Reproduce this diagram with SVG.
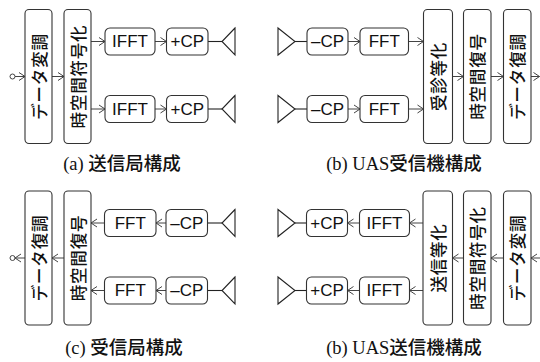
<svg xmlns="http://www.w3.org/2000/svg" width="540" height="362" viewBox="0 0 540 362">
<defs>
<style>
.box{fill:#fff;stroke:#333;stroke-width:1.1}
.ln{fill:none;stroke:#444;stroke-width:1}
.ant{fill:none;stroke:#222;stroke-width:1.1}
.vt{font-family:'Noto Sans CJK JP','Noto Sans CJK SC',sans-serif;font-size:16.5px;font-weight:500;letter-spacing:0.8px;fill:#111;text-anchor:middle;dominant-baseline:central}
.ht{font-family:'Liberation Sans',Arial,sans-serif;font-size:17px;fill:#111;text-anchor:middle;dominant-baseline:central}
.cap{font-family:'Liberation Serif','Noto Sans CJK JP',serif;font-size:18.5px;font-weight:500;fill:#111;text-anchor:middle}
</style>
<marker id="ah" markerUnits="userSpaceOnUse" markerWidth="10" markerHeight="10" refX="6" refY="4" orient="auto" overflow="visible">
<path d="M0,0 L6,4 L0,8" fill="none" stroke="#444" stroke-width="1"/>
</marker>
</defs>
<rect width="540" height="362" fill="#fff"/>

<g id="connectors">
<circle class="ln" cx="12.5" cy="76.5" r="2.5"/>
<line class="ln" x1="15" y1="76.5" x2="25" y2="76.5" marker-end="url(#ah)"/>
<line class="ln" x1="52" y1="76.5" x2="64" y2="76.5" marker-end="url(#ah)"/>
<line class="ln" x1="91" y1="41.5" x2="105" y2="41.5" marker-end="url(#ah)"/>
<line class="ln" x1="91" y1="109" x2="105" y2="109" marker-end="url(#ah)"/>
<line class="ln" x1="155" y1="41.5" x2="166.5" y2="41.5" marker-end="url(#ah)"/>
<line class="ln" x1="155" y1="109" x2="166.5" y2="109" marker-end="url(#ah)"/>
<line class="ant" x1="208" y1="41.5" x2="222" y2="41.5"/>
<line class="ant" x1="208" y1="109" x2="222" y2="109"/>
<line class="ant" x1="295" y1="41.5" x2="307" y2="41.5"/>
<line class="ant" x1="295" y1="109" x2="307" y2="109"/>
<line class="ln" x1="348" y1="41.5" x2="360" y2="41.5" marker-end="url(#ah)"/>
<line class="ln" x1="348" y1="109" x2="360" y2="109" marker-end="url(#ah)"/>
<line class="ln" x1="408.5" y1="41.5" x2="423.5" y2="41.5" marker-end="url(#ah)"/>
<line class="ln" x1="408.5" y1="109" x2="423.5" y2="109" marker-end="url(#ah)"/>
<line class="ln" x1="452.5" y1="76.5" x2="463.5" y2="76.5" marker-end="url(#ah)"/>
<line class="ln" x1="491" y1="76.5" x2="503.5" y2="76.5" marker-end="url(#ah)"/>
<line class="ln" x1="531" y1="76.5" x2="539.5" y2="76.5" marker-end="url(#ah)"/>
<circle class="ln" cx="12.5" cy="258" r="2.5"/>
<line class="ln" x1="25" y1="258" x2="15" y2="258" marker-end="url(#ah)"/>
<line class="ln" x1="64" y1="258" x2="52" y2="258" marker-end="url(#ah)"/>
<line class="ln" x1="104.5" y1="223" x2="91" y2="223" marker-end="url(#ah)"/>
<line class="ln" x1="104.5" y1="290.5" x2="91" y2="290.5" marker-end="url(#ah)"/>
<line class="ln" x1="166" y1="223" x2="156" y2="223" marker-end="url(#ah)"/>
<line class="ln" x1="166" y1="290.5" x2="156" y2="290.5" marker-end="url(#ah)"/>
<line class="ant" x1="207.5" y1="223" x2="222" y2="223"/>
<line class="ant" x1="207.5" y1="290.5" x2="222" y2="290.5"/>
<line class="ant" x1="295" y1="223" x2="306.5" y2="223"/>
<line class="ant" x1="295" y1="290.5" x2="306.5" y2="290.5"/>
<line class="ln" x1="359.5" y1="223" x2="347.5" y2="223" marker-end="url(#ah)"/>
<line class="ln" x1="359.5" y1="290.5" x2="347.5" y2="290.5" marker-end="url(#ah)"/>
<line class="ln" x1="423" y1="223" x2="409.5" y2="223" marker-end="url(#ah)"/>
<line class="ln" x1="423" y1="290.5" x2="409.5" y2="290.5" marker-end="url(#ah)"/>
<line class="ln" x1="463.5" y1="258" x2="452.5" y2="258" marker-end="url(#ah)"/>
<line class="ln" x1="503.5" y1="258" x2="491" y2="258" marker-end="url(#ah)"/>
<line class="ln" x1="541" y1="258" x2="531" y2="258" marker-end="url(#ah)"/>
</g>

<g id="a-mod"><rect class="box" x="25" y="9.5" width="27" height="134" rx="4"/><text class="vt" transform="translate(38.5,76.5) rotate(-90)">データ変調</text></g>
<g id="a-stc"><rect class="box" x="64" y="9.5" width="27" height="134" rx="4"/><text class="vt" transform="translate(77.5,76.5) rotate(-90)">時空間符号化</text></g>
<g id="a-ifft1"><rect class="box" x="105" y="28" width="50" height="27" rx="5"/><text class="ht" x="130" y="41.5">IFFT</text></g>
<g id="a-cp1"><rect class="box" x="166.5" y="28" width="41.5" height="27" rx="5"/><text class="ht" x="187.25" y="41.5">+CP</text></g>
<g id="a-ant1"><path class="ant" d="M235,28 L222,41.5 L235,55 Z"/></g>
<g id="a-ifft2"><rect class="box" x="105" y="95.5" width="50" height="27" rx="5"/><text class="ht" x="130" y="109">IFFT</text></g>
<g id="a-cp2"><rect class="box" x="166.5" y="95.5" width="41.5" height="27" rx="5"/><text class="ht" x="187.25" y="109">+CP</text></g>
<g id="a-ant2"><path class="ant" d="M235,95.5 L222,109 L235,122.5 Z"/></g>
<g id="a-cap"><text class="cap" x="122" y="170">(a) 送信局構成</text></g>

<g id="b-ant1"><path class="ant" d="M278,28 L295,41.5 L278,55 Z"/></g>
<g id="b-cp1"><rect class="box" x="307" y="28" width="41" height="27" rx="5"/><text class="ht" x="327.5" y="41.5">–CP</text></g>
<g id="b-fft1"><rect class="box" x="360" y="28" width="48.5" height="27" rx="5"/><text class="ht" x="384.25" y="41.5">FFT</text></g>
<g id="b-ant2"><path class="ant" d="M278,95.5 L295,109 L278,122.5 Z"/></g>
<g id="b-cp2"><rect class="box" x="307" y="95.5" width="41" height="27" rx="5"/><text class="ht" x="327.5" y="109">–CP</text></g>
<g id="b-fft2"><rect class="box" x="360" y="95.5" width="48.5" height="27" rx="5"/><text class="ht" x="384.25" y="109">FFT</text></g>
<g id="b-eq"><rect class="box" x="423.5" y="9.5" width="29" height="134" rx="4"/><text class="vt" transform="translate(438,76.5) rotate(-90)">受診等化</text></g>
<g id="b-std"><rect class="box" x="463.5" y="9.5" width="27.5" height="134" rx="4"/><text class="vt" transform="translate(477.25,76.5) rotate(-90)">時空間復号</text></g>
<g id="b-dem"><rect class="box" x="503.5" y="9.5" width="27.5" height="134" rx="4"/><text class="vt" transform="translate(517.25,76.5) rotate(-90)">データ復調</text></g>
<g id="b-cap"><text class="cap" x="404" y="170">(b) UAS受信機構成</text></g>

<g id="c-dem"><rect class="box" x="25" y="191" width="27" height="134" rx="4"/><text class="vt" transform="translate(38.5,258) rotate(-90)">データ復調</text></g>
<g id="c-std"><rect class="box" x="64" y="191" width="27" height="134" rx="4"/><text class="vt" transform="translate(77.5,258) rotate(-90)">時空間復号</text></g>
<g id="c-fft1"><rect class="box" x="104.5" y="209.5" width="51.5" height="27" rx="5"/><text class="ht" x="130.25" y="223">FFT</text></g>
<g id="c-cp1"><rect class="box" x="166" y="209.5" width="41.5" height="27" rx="5"/><text class="ht" x="186.75" y="223">–CP</text></g>
<g id="c-ant1"><path class="ant" d="M235,209.5 L222,223 L235,236.5 Z"/></g>
<g id="c-fft2"><rect class="box" x="104.5" y="277" width="51.5" height="27" rx="5"/><text class="ht" x="130.25" y="290.5">FFT</text></g>
<g id="c-cp2"><rect class="box" x="166" y="277" width="41.5" height="27" rx="5"/><text class="ht" x="186.75" y="290.5">–CP</text></g>
<g id="c-ant2"><path class="ant" d="M235,277 L222,290.5 L235,304 Z"/></g>
<g id="c-cap"><text class="cap" x="124" y="354">(c) 受信局構成</text></g>

<g id="d-ant1"><path class="ant" d="M278,209.5 L295,223 L278,236.5 Z"/></g>
<g id="d-cp1"><rect class="box" x="306.5" y="209.5" width="41" height="27" rx="5"/><text class="ht" x="327" y="223">+CP</text></g>
<g id="d-ifft1"><rect class="box" x="359.5" y="209.5" width="50" height="27" rx="5"/><text class="ht" x="384.5" y="223">IFFT</text></g>
<g id="d-ant2"><path class="ant" d="M278,277 L295,290.5 L278,304 Z"/></g>
<g id="d-cp2"><rect class="box" x="306.5" y="277" width="41" height="27" rx="5"/><text class="ht" x="327" y="290.5">+CP</text></g>
<g id="d-ifft2"><rect class="box" x="359.5" y="277" width="50" height="27" rx="5"/><text class="ht" x="384.5" y="290.5">IFFT</text></g>
<g id="d-eq"><rect class="box" x="423" y="191" width="29.5" height="134" rx="4"/><text class="vt" transform="translate(437.75,258) rotate(-90)">送信等化</text></g>
<g id="d-stc"><rect class="box" x="463.5" y="191" width="27.5" height="134" rx="4"/><text class="vt" transform="translate(477.25,258) rotate(-90)">時空間符号化</text></g>
<g id="d-mod"><rect class="box" x="503.5" y="191" width="27.5" height="134" rx="4"/><text class="vt" transform="translate(517.25,258) rotate(-90)">データ変調</text></g>
<g id="d-cap"><text class="cap" x="404" y="354">(b) UAS送信機構成</text></g>
</svg>
